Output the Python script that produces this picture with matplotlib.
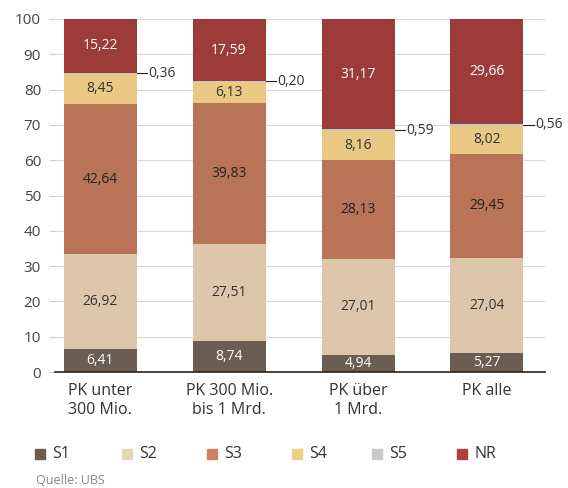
import matplotlib
matplotlib.use("Agg")
import matplotlib.pyplot as plt
import numpy as np

categories = ["PK unter\n300 Mio.", "PK 300 Mio.\nbis 1 Mrd.", "PK über\n1 Mrd.", "PK alle"]
series_names = ["S1", "S2", "S3", "S4", "S5", "NR"]
s1 = [6.41, 8.74, 4.94, 5.27]
s2 = [26.92, 27.51, 27.01, 27.04]
s3 = [42.64, 39.83, 28.13, 29.45]
s4 = [8.45, 6.13, 8.16, 8.02]
s5 = [0.36, 0.20, 0.59, 0.56]
nr = [15.22, 17.59, 31.17, 29.66]

colors = ["#6b5d52", "#dcc7ab", "#b97458", "#e8c883", "#c8c8c8", "#9c3b37"]
legend_colors = ["#6b5d52", "#e6d4bd", "#d08060", "#ecd080", "#c8c8c8", "#b04040"]
text_colors = ["white", "#333333", "#222222", "#333333", None, "white"]

plt.rcParams["font.family"] = ["Open Sans", "DejaVu Sans"]

fig = plt.figure(figsize=(5.68, 4.88), dpi=100)
ax = fig.add_axes([55 / 568, 116 / 488, 490 / 568, 353 / 488])

x = np.arange(len(categories))
width = 0.566
bottom = np.zeros(len(categories))
for name, vals, col, tcol in zip(series_names, [s1, s2, s3, s4, s5, nr], colors, text_colors):
    vals = np.array(vals)
    ax.bar(x, vals, width, bottom=bottom, color=col, zorder=2, label=name)
    for i, v in enumerate(vals):
        label = f"{v:.2f}".replace(".", ",")
        if tcol is None:
            # small leader line for the thin S5 segment
            yc = bottom[i] + v / 2
            x0 = x[i] + width / 2
            ax.plot([x0, x0 + 0.08], [yc, yc], color="#222222", lw=0.8, zorder=3,
                    clip_on=False)
            ax.text(x0 + 0.09, yc, label, ha="left", va="center", fontsize=10,
                    color="#333333")
        else:
            ax.text(x[i], bottom[i] + v / 2, label, ha="center", va="center",
                    fontsize=10, color=tcol, zorder=4)
    bottom += vals

ax.set_xlim(-0.35, 3.45)
ax.set_ylim(0, 100)
ax.set_yticks(range(0, 101, 10))
ax.yaxis.grid(True, color="#d9d9d9", lw=0.8, zorder=0)
ax.set_axisbelow(True)
for side in ["top", "right", "left"]:
    ax.spines[side].set_visible(False)
ax.spines["bottom"].set_color("#222222")
ax.spines["bottom"].set_linewidth(1.2)
ax.tick_params(axis="y", length=4, color="#cccccc", labelsize=11, labelcolor="#444444", pad=6)
ax.tick_params(axis="x", length=0, labelsize=11.5, labelcolor="#333333", pad=8)
ax.set_xticks(x)
ax.set_xticklabels(categories)

# legend drawn by hand to match spacing
leg_x = [35, 122, 207, 292, 372, 457]
for lx, name, col in zip(leg_x, series_names, legend_colors):
    fig.patches.append(plt.Rectangle((lx / 568, 1 - 459 / 488), 10 / 568, 10 / 488,
                                     transform=fig.transFigure, color=col))
    fig.text((lx + 17) / 568, 1 - 454 / 488, name, fontsize=11.5, color="#333333",
             va="center", ha="left")

fig.text(36 / 568, 1 - 481 / 488, "Quelle: UBS", fontsize=9, color="#888888",
         va="center", ha="left")

fig.savefig("out.png", dpi=100)
